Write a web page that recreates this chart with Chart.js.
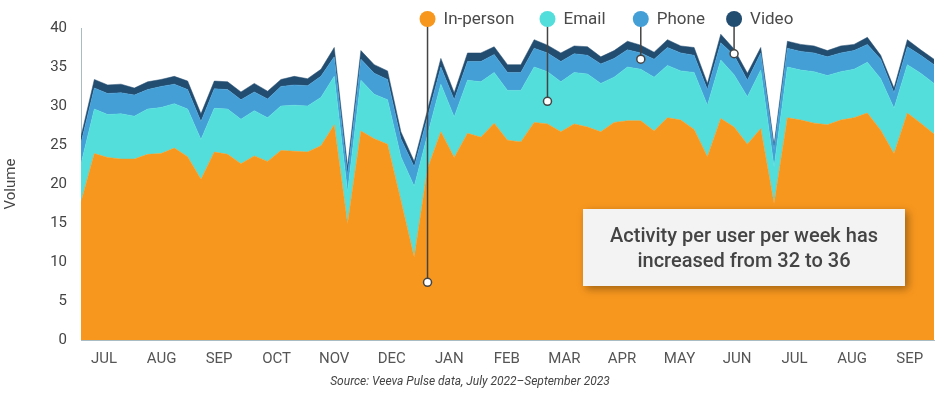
<!DOCTYPE html>
<html>
<head>
<meta charset="utf-8">
<script src="https://cdn.jsdelivr.net/npm/chart.js@4"></script>
<style>
  html, body { margin: 0; padding: 0; background: #fff; }
  #wrap { width: 941px; height: 397px; position: relative; }
</style>
</head>
<body>
<div id="wrap"><canvas id="chart"></canvas></div>
<script>
// Weekly volume per user, Jul 2022 - Sep 2023 (65 weeks)
const inPerson = [17.7, 23.9, 23.4, 23.2, 23.2, 23.8, 23.9, 24.6, 23.5, 20.6,
                  24.1, 23.8, 22.6, 23.6, 22.9, 24.3, 24.2, 24.1, 24.9, 27.6,
                  14.9, 26.8, 25.8, 25.1, 17.9, 10.6, 22.0, 26.7, 23.4, 26.5,
                  26.0, 27.8, 25.6, 25.4, 27.9, 27.7, 26.7, 27.7, 27.3, 26.7,
                  27.9, 28.1, 28.1, 26.8, 28.5, 28.2, 27.0, 23.5, 28.4, 27.3,
                  25.1, 27.1, 17.5, 28.5, 28.2, 27.8, 27.6, 28.2, 28.5, 29.1,
                  26.9, 23.9, 29.1, 27.8, 26.4];
const email = [4.9, 5.7, 5.5, 5.8, 5.5, 5.8, 5.9, 5.7, 6.1, 5.1,
               5.6, 5.8, 5.7, 5.8, 5.6, 5.7, 5.9, 5.9, 6.2, 6.2,
               4.1, 6.5, 5.7, 5.7, 5.6, 9.1, 4.3, 6.1, 5.2, 6.8,
               7.1, 6.5, 6.4, 6.6, 7.1, 6.7, 6.4, 6.6, 6.8, 6.2,
               5.8, 6.9, 6.6, 6.9, 6.7, 6.3, 7.3, 6.6, 7.5, 6.7,
               6.1, 7.5, 4.7, 6.5, 6.4, 6.6, 6.3, 6.2, 6.2, 6.5,
               6.6, 5.8, 6.2, 6.4, 6.5];
const phone = [2.7, 2.7, 2.7, 2.7, 2.7, 2.5, 2.7, 2.5, 2.5, 2.3,
               2.5, 2.5, 2.5, 2.4, 2.4, 2.5, 2.6, 2.6, 2.7, 2.5,
               2.2, 2.7, 2.7, 2.6, 2.3, 2.5, 2.3, 2.2, 2.2, 2.4,
               2.6, 2.3, 2.3, 2.3, 2.4, 2.4, 2.6, 2.4, 2.4, 2.5,
               2.4, 2.2, 2.1, 2.3, 2.3, 2.3, 2.2, 2.0, 2.2, 2.5,
               2.1, 2.2, 2.2, 2.4, 2.4, 2.4, 2.4, 2.4, 2.4, 2.3,
               2.5, 2.0, 2.3, 2.3, 2.4];
const video = [0.8, 1.1, 1.1, 1.1, 0.9, 1.0, 0.9, 1.0, 1.1, 1.0,
               1.0, 1.0, 1.0, 1.1, 1.0, 0.9, 1.1, 0.9, 0.9, 1.2,
               1.0, 1.1, 1.1, 1.1, 0.9, 0.7, 0.9, 1.1, 0.9, 1.1,
               1.1, 1.0, 1.0, 1.0, 1.1, 1.0, 1.1, 1.0, 1.1, 0.9,
               1.0, 1.1, 1.0, 0.9, 1.0, 0.9, 1.0, 0.8, 1.1, 0.8,
               0.9, 0.7, 0.6, 0.9, 0.9, 0.9, 0.8, 0.9, 0.8, 0.9,
               0.5, 0.6, 0.9, 0.7, 0.7];

const months = ['JUL', 'AUG', 'SEP', 'OCT', 'NOV', 'DEC', 'JAN', 'FEB', 'MAR',
                'APR', 'MAY', 'JUN', 'JUL', 'AUG', 'SEP'];

const seriesNames = ['In-person', 'Email', 'Phone', 'Video'];
const seriesColors = ['#F7971E', '#53DEDC', '#459FD7', '#234D70'];
// callout anchor for each series: [week index, value]
const callouts = [[26, 7.4], [35, 30.6], [42, 36.0], [49, 36.7]];

const noteLines = ['Activity per user per week has', 'increased from 32 to 36'];
const sourceText = 'Source: Veeva Pulse data, July 2022\u2013September 2023';

// month label positions (in weeks) - roughly mid-month
const monthTicks = months.map((m, k) => 1.725 + k * 4.318);

const toXY = arr => arr.map((v, i) => ({ x: i, y: v }));

const overlay = {
    id: 'overlay',
    afterDraw(chart) {
        const ctx = chart.ctx;
        const xs = chart.scales.x, ys = chart.scales.y;
        ctx.save();

        // legend with callout lines
        seriesNames.forEach((name, i) => {
            const px = xs.getPixelForValue(callouts[i][0]);
            const py = ys.getPixelForValue(callouts[i][1]);
            ctx.strokeStyle = '#444';
            ctx.lineWidth = 1.5;
            ctx.beginPath();
            ctx.moveTo(px, 19);
            ctx.lineTo(px, py);
            ctx.stroke();
            ctx.fillStyle = '#fff';
            ctx.beginPath();
            ctx.arc(px, py, 4, 0, Math.PI * 2);
            ctx.fill();
            ctx.stroke();
            ctx.fillStyle = seriesColors[i];
            ctx.beginPath();
            ctx.arc(px, 19, 8, 0, Math.PI * 2);
            ctx.fill();
            ctx.fillStyle = '#4a4a4a';
            ctx.font = '17px Roboto';
            ctx.textAlign = 'left';
            ctx.textBaseline = 'middle';
            ctx.fillText(name, px + 16, 20);
        });

        // note box
        ctx.save();
        ctx.shadowColor = 'rgba(0,0,0,0.35)';
        ctx.shadowBlur = 8;
        ctx.shadowOffsetX = 3;
        ctx.shadowOffsetY = 3;
        ctx.fillStyle = '#F3F3F3';
        ctx.fillRect(583, 209, 322, 77);
        ctx.restore();
        ctx.fillStyle = '#444';
        ctx.font = '500 20px Roboto';
        ctx.textAlign = 'center';
        ctx.textBaseline = 'middle';
        ctx.fillText(noteLines[0], 744, 237);
        ctx.fillText(noteLines[1], 744, 262);

        // source
        ctx.font = 'italic 12px Roboto';
        ctx.fillStyle = '#444';
        ctx.fillText(sourceText, 470, 382);
        ctx.restore();
    }
};

new Chart(document.getElementById('chart'), {
    type: 'line',
    data: {
        datasets: [inPerson, email, phone, video].map((arr, i) => ({
            label: seriesNames[i],
            data: toXY(arr),
            backgroundColor: seriesColors[i],
            borderColor: seriesColors[i],
            borderWidth: 0.5,
            pointRadius: 0,
            tension: 0,
            fill: i === 0 ? 'origin' : '-1'
        }))
    },
    options: {
        responsive: true,
        maintainAspectRatio: false,
        animation: false,
        layout: { padding: { top: 28, right: 7, left: 0, bottom: 0 } },
        plugins: { legend: { display: false }, tooltip: { enabled: false } },
        scales: {
            x: {
                type: 'linear',
                min: 0,
                max: inPerson.length - 1,
                grid: { display: false, drawTicks: false },
                border: { display: true, color: '#A9BCC4', width: 1 },
                afterBuildTicks: scale => { scale.ticks = monthTicks.map(v => ({ value: v })); },
                afterFit: scale => { scale.height = 57; },
                ticks: {
                    autoSkip: false,
                    maxRotation: 0,
                    padding: 10,
                    color: '#555',
                    font: { family: 'Roboto', size: 15 },
                    callback: (v, i) => months[i]
                }
            },
            y: {
                stacked: true,
                min: 0,
                max: 40,
                grid: { display: false, drawTicks: false },
                border: { display: true, color: '#A9BCC4', width: 1 },
                afterFit: scale => { scale.width = 81; },
                ticks: {
                    stepSize: 5,
                    padding: 14,
                    color: '#444',
                    font: { family: 'Roboto', size: 15 }
                },
                title: {
                    display: true,
                    text: 'Volume',
                    color: '#444',
                    padding: { top: 2, bottom: 0 },
                    font: { family: 'Roboto', size: 15 }
                }
            }
        }
    },
    plugins: [overlay]
});
</script>
</body>
</html>
